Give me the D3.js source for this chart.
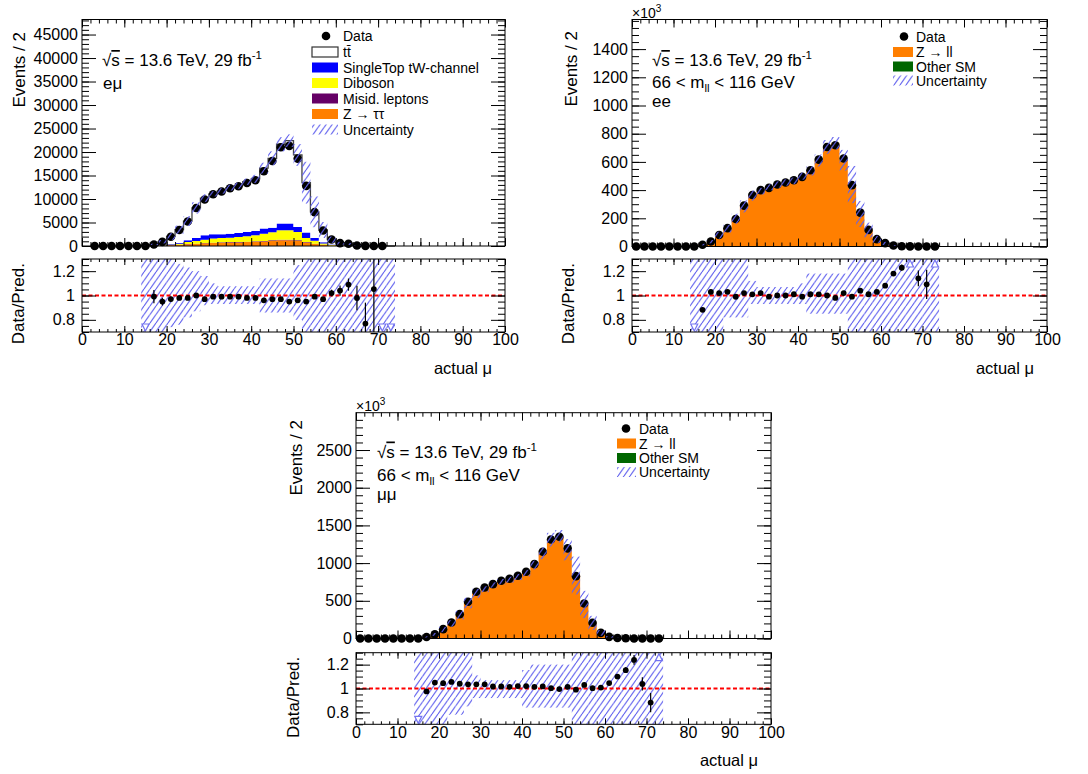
<!DOCTYPE html>
<html lang="en">
<head>
<meta charset="UTF-8" />
<title>actual mu - emu, ee, mumu</title>
<script src="https://cdn.jsdelivr.net/npm/d3@7"></script>
<style>
  body { margin: 0; background: #fff; }
  svg text { font-family: "Liberation Sans", Arial, Helvetica, sans-serif; fill: #000; }
</style>
</head>
<body>
<svg id="chart" width="1088" height="774"></svg>
<script>
// ---- bins ----
// data points: centres of 2-unit bins
var dataCenters = [1,3,5,7,9,11,13,15,17,19,21,23,25,27,29,31,33,35,37,39,41,43,45,47,49,51,53,55,57,59,61,63,65,67,69,71,73];
// simulation bins (14 to 74)
var mcCenters = [15,17,19,21,23,25,27,29,31,33,35,37,39,41,43,45,47,49,51,53,55,57,59,61,63,65,67,69,71,73];

// ---- e mu channel (events / 2) ----
var emuData = [null,0,0,0,0,0,0,0,330,870,1960,3400,5200,8100,9900,11000,11600,12300,12700,13400,14000,15900,18100,21000,21300,18600,12800,7200,3300,1370,620,475,96,20,8,0,null];
var emuTtbar = [32,263,726,1600,2830,4096,6390,7926,8621,9227,9794,10048,10683,11086,12863,14750,16879,17651,15315,10624,5563,2602,1033,466,346,78,20,5.6,2.4,1.2];
var emuSingleTop = [2,20,50,120,140,360,640,930,920,780,850,860,930,930,1070,1010,1420,1420,1070,1140,610,280,110,45,30,6,2,1,0.2,0.1];
var emuDiboson = [3,25,70,100,220,420,570,710,860,930,930,1070,1130,1270,1560,1690,2000,2000,1780,860,600,270,100,45,30,7,2,0.5,0.2,0.1];
var emuMisid = [0,3,7,20,30,45,50,65,70,80,85,85,95,100,110,120,135,135,120,85,50,25,10,4,3,1,0,0,0,0];
var emuZtautau = [3,22,63,180,250,385,450,575,640,700,765,765,835,900,960,1090,1215,1215,1090,765,450,225,90,36,27,6,2,0.5,0.2,0.1];
var emuUncMain = [0.5,0.45,0.4,0.35,0.25,0.2,0.15,0.08,0.05,0.05,0.05,0.05,0.05,0.06,0.07,0.08,0.07,0.06,0.12,0.33,0.45,0.5,0.5,0.5,0.5,0.5,0.5,0.5,0.5,0.5];
var emuUncUp = [0.6,0.6,0.6,0.3,0.26,0.23,0.2,0.16,0.1,0.076,0.076,0.076,0.076,0.076,0.14,0.14,0.14,0.14,0.25,0.6,0.6,0.6,0.6,0.6,0.6,0.6,0.6,0.6,0.6,0.6];
var emuUncDown = [0.6,0.6,0.6,0.26,0.24,0.18,0.13,0.08,0.07,0.07,0.07,0.07,0.07,0.07,0.14,0.14,0.14,0.14,0.2,0.6,0.6,0.6,0.6,0.6,0.6,0.6,0.6,0.6,0.6,0.6];

// ---- ee channel (x10^3 events / 2) ----
var eeData = [0,0,0,0,0,0,0,0,12,35,82,130,195,290,365,400,416,440,454,470,494,541,616,706,718,624,435,240,118,52,24,7,2.2,0.7,0.307,0.083,0.02];
var eeZll = [0.3,13.55,33.86,80.1,125.7,196.2,283.2,360,390.6,418.5,438.2,452.2,463.4,497,533.5,607.5,703.2,729.8,609.4,437.6,229.9,116.3,50.3,22.11,5.91,1.78,0.45,0.269,0.076,0.01];
var eeOther = [0,0.05,0.14,0.3,0.5,0.8,1.1,1.4,1.6,1.7,1.8,1.8,1.9,2,2.1,2.4,2.8,2.9,2.4,1.8,0.9,0.5,0.2,0.09,0.02,0.01,0,0,0,0];
var eeUncMain = [0.5,0.4,0.35,0.3,0.22,0.18,0.15,0.1,0.06,0.05,0.05,0.05,0.05,0.05,0.06,0.07,0.07,0.06,0.12,0.3,0.4,0.45,0.5,0.5,0.5,0.5,0.5,0.5,0.5,0.5];
var eeUncUp = [0.6,0.6,0.6,0.6,0.6,0.6,0.6,0.12,0.07,0.07,0.07,0.07,0.07,0.1,0.18,0.18,0.18,0.18,0.18,0.6,0.6,0.6,0.6,0.6,0.6,0.6,0.6,0.6,0.6,0.6];
var eeUncDown = [0.6,0.6,0.6,0.6,0.18,0.18,0.18,0.07,0.07,0.07,0.07,0.07,0.07,0.07,0.15,0.15,0.15,0.15,0.15,0.6,0.6,0.6,0.6,0.6,0.6,0.6,0.6,0.6,0.6,0.6];

// ---- mu mu channel (x10^3 events / 2) ----
var mmData = [0,0,0,0,0,0,0,0,20,57,124,212,323,487,620,677,721,765,792,832,885,987,1150,1314,1350,1195,827,465,208,75,22,6.5,2.4,0.9,0.35,0.12,0.03];
var mmZll = [0.5,20.42,54.1,118.2,200.2,309.4,468.6,596.6,651.5,706.2,749.2,778,812.4,864.1,969.5,1126.3,1304.8,1351.4,1173.8,832.1,449.7,206.6,74.1,20.97,5.89,2.07,0.726,0.337,0.136,0.02];
var mmOther = [0,0.08,0.2,0.5,0.8,1.2,1.9,2.4,2.6,2.8,3,3.1,3.3,3.5,3.9,4.5,5.2,5.4,4.7,3.3,1.8,0.8,0.3,0.08,0.02,0.01,0,0,0,0];
var mmUncMain = [0.5,0.4,0.35,0.3,0.22,0.18,0.15,0.1,0.06,0.05,0.05,0.05,0.05,0.05,0.06,0.07,0.07,0.06,0.12,0.3,0.4,0.45,0.5,0.5,0.5,0.5,0.5,0.5,0.5,0.5];
var mmUncUp = [0.6,0.6,0.6,0.6,0.6,0.6,0.6,0.11,0.07,0.07,0.07,0.07,0.07,0.155,0.2,0.2,0.2,0.2,0.2,0.6,0.6,0.6,0.6,0.6,0.6,0.6,0.6,0.6,0.6,0.6];
var mmUncDown = [0.6,0.6,0.6,0.6,0.22,0.22,0.15,0.08,0.08,0.08,0.08,0.08,0.08,0.16,0.16,0.16,0.16,0.16,0.16,0.6,0.6,0.6,0.6,0.6,0.6,0.6,0.6,0.6,0.6,0.6];

// ---- tick labels ----
var xMajor = [0,10,20,30,40,50,60,70,80,90,100];
var emuYTicks = [0,5000,10000,15000,20000,25000,30000,35000,40000,45000];
var eeYTicks = [0,200,400,600,800,1000,1200,1400];
var mmYTicks = [0,500,1000,1500,2000,2500];
var ratioTicks = [0.8,1,1.2];

var svg = d3.select("#chart");
var font = "'Liberation Sans', Arial, Helvetica, sans-serif";

// hatch used for the uncertainty band
var hw = 6, hh = 8.5;
svg.append("defs").append("pattern")
  .attr("id", "hatch")
  .attr("patternUnits", "userSpaceOnUse")
  .attr("width", hw).attr("height", hh)
  .append("path")
  .attr("d", "M" + (-hw) + "," + hh + "L0,0M0," + hh + "L" + hw + ",0M" + hw + "," + hh + "L" + (2 * hw) + ",0")
  .attr("stroke", "#6262ee").attr("stroke-width", 1.15).attr("fill", "none");

var panels = [
  {
    left: 82, right: 505, top: 19.5, mainBottom: 246, ratioTop: 259, ratioBottom: 332,
    yMax: 48200, yTicks: emuYTicks, yMinor: d3.range(0, 48001, 1000), perThousand: false,
    data: emuData, dataFrom: 3, dataTo: 71, outline: true,
    stack: [
      { name: "ztt", values: emuZtautau, color: "#ff7f00" },
      { name: "misid", values: emuMisid, color: "#660066" },
      { name: "diboson", values: emuDiboson, color: "#ffff00" },
      { name: "singletop", values: emuSingleTop, color: "#0000ff" },
      { name: "ttbar", values: emuTtbar, color: "#ffffff" }
    ],
    uncMain: emuUncMain, uncUp: emuUncUp, uncDown: emuUncDown,
    yTitleX: 25, yTitleEnd: 32, rTitleX: 24,
    lines: [{ kind: "lumi", x: 102, y: 66 }, { kind: "plain", text: "e\u03bc", x: 103, y: 89 }],
    legend: {
      dotX: 326, boxX: 312, boxW: 26, boxH: 10, textX: 343,
      rows: [
        { y: 36, type: "dot", label: "Data" },
        { y: 52, type: "box", color: "#ffffff", stroke: "#333", label: "tt\u0304" },
        { y: 67.5, type: "box", color: "#0000ff", label: "SingleTop tW-channel" },
        { y: 83, type: "box", color: "#ffff00", label: "Diboson" },
        { y: 98.5, type: "box", color: "#660066", label: "Misid. leptons" },
        { y: 114, type: "box", color: "#ff7f00", label: "Z \u2192 \u03c4\u03c4" },
        { y: 129.5, type: "hatch", label: "Uncertainty" }
      ]
    }
  },
  {
    left: 632, right: 1047, top: 19.5, mainBottom: 246.5, ratioTop: 259, ratioBottom: 332,
    yMax: 1610, yTicks: eeYTicks, yMinor: d3.range(0, 1601, 50), perThousand: true,
    data: eeData, dataFrom: 1, dataTo: 73, outline: false,
    stack: [
      { name: "other", values: eeOther, color: "#006600" },
      { name: "zll", values: eeZll, color: "#ff7f00" }
    ],
    uncMain: eeUncMain, uncUp: eeUncUp, uncDown: eeUncDown,
    yTitleX: 577, yTitleEnd: 31, rTitleX: 574,
    lines: [{ kind: "lumi", x: 652, y: 66 }, { kind: "mll", x: 652, y: 87.5 }, { kind: "plain", text: "ee", x: 652, y: 106.5 }],
    legend: {
      dotX: 904, boxX: 893, boxW: 20, boxH: 10, textX: 916,
      rows: [
        { y: 36.5, type: "dot", label: "Data" },
        { y: 52, type: "box", color: "#ff7f00", label: "Z \u2192 ll" },
        { y: 66.5, type: "box", color: "#006600", label: "Other SM" },
        { y: 80.5, type: "hatch", label: "Uncertainty" }
      ]
    }
  },
  {
    left: 356, right: 771, top: 412.7, mainBottom: 638.5, ratioTop: 652.7, ratioBottom: 724.3,
    yMax: 2995, yTicks: mmYTicks, yMinor: d3.range(0, 2901, 100), perThousand: true,
    data: mmData, dataFrom: 1, dataTo: 73, outline: false,
    stack: [
      { name: "other", values: mmOther, color: "#006600" },
      { name: "zll", values: mmZll, color: "#ff7f00" }
    ],
    uncMain: mmUncMain, uncUp: mmUncUp, uncDown: mmUncDown,
    yTitleX: 302, yTitleEnd: 420, rTitleX: 299,
    lines: [{ kind: "lumi", x: 377, y: 457.5 }, { kind: "mll", x: 377, y: 480.5 }, { kind: "plain", text: "\u03bc\u03bc", x: 377, y: 500 }],
    legend: {
      dotX: 626, boxX: 617, boxW: 19, boxH: 10, textX: 639,
      rows: [
        { y: 428.5, type: "dot", label: "Data" },
        { y: 443.5, type: "box", color: "#ff7f00", label: "Z \u2192 ll" },
        { y: 458, type: "box", color: "#006600", label: "Other SM" },
        { y: 472, type: "hatch", label: "Uncertainty" }
      ]
    }
  }
];

function axisPart(g, axisFn, scale, values, size, fmt, pad, tx, ty) {
  var a = axisFn(scale).tickValues(values).tickSizeInner(-size).tickSizeOuter(0).tickPadding(pad);
  a.tickFormat(fmt || function() { return ""; });
  var s = g.append("g").attr("transform", "translate(" + tx + "," + ty + ")").call(a);
  s.select(".domain").remove();
  s.attr("font-family", font).attr("font-size", 16);
  s.selectAll("line").attr("stroke", "#000");
  s.selectAll("text").attr("fill", "#000");
  return s;
}

function drawPanel(p) {
  var g = svg.append("g");
  var x = d3.scaleLinear().domain([0, 100]).range([p.left, p.right]);
  var y = d3.scaleLinear().domain([0, p.yMax]).range([p.mainBottom, p.top]);
  var yr = d3.scaleLinear().domain([0.7, 1.3]).range([p.ratioBottom, p.ratioTop]);
  var xMinor = d3.range(0, 101, 2);

  // stacked simulation
  var rows = mcCenters.map(function(c, i) {
    var r = { lo: c - 1, hi: c + 1 };
    p.stack.forEach(function(s) { r[s.name] = s.values[i]; });
    return r;
  });
  var layers = d3.stack().keys(p.stack.map(function(s) { return s.name; }))(rows);
  var area = d3.area().curve(d3.curveStepAfter)
    .x(function(d) { return x(d.x); })
    .y0(function(d) { return y(d.y0); })
    .y1(function(d) { return y(d.y1); });
  layers.forEach(function(layer, k) {
    var pts = layer.map(function(d) { return { x: d.data.lo, y0: d[0], y1: d[1] }; });
    var last = layer[layer.length - 1];
    pts.push({ x: last.data.hi, y0: last[0], y1: last[1] });
    g.append("path").attr("d", area(pts)).attr("fill", p.stack[k].color);
  });
  var total = rows.map(function(r, i) { return layers[layers.length - 1][i][1]; });

  if (p.outline) {
    var lp = [{ x: 14, v: 0 }];
    rows.forEach(function(r, i) { lp.push({ x: r.lo, v: total[i] }); });
    lp.push({ x: 74, v: total[total.length - 1] });
    lp.push({ x: 74, v: 0 });
    g.append("path")
      .attr("d", d3.line().curve(d3.curveStepAfter).x(function(d) { return x(d.x); }).y(function(d) { return y(d.v); })(lp))
      .attr("fill", "none").attr("stroke", "#444").attr("stroke-width", 1.3);
  }

  // data points
  var scaleN = p.perThousand ? 1000 : 1;
  var pts = dataCenters.map(function(c, i) {
    var v = p.data[i];
    return { c: c, v: v, err: v ? Math.sqrt(v * scaleN) / scaleN : 0 };
  }).filter(function(d) { return d.v !== null && d.c >= p.dataFrom && d.c <= p.dataTo; });
  g.append("g").selectAll("line").data(pts.filter(function(d) { return d.err > 0; })).join("line")
    .attr("x1", function(d) { return x(d.c); }).attr("x2", function(d) { return x(d.c); })
    .attr("y1", function(d) { return y(Math.max(0, d.v - d.err)); })
    .attr("y2", function(d) { return y(d.v + d.err); })
    .attr("stroke", "#000").attr("stroke-width", 1.2);
  g.append("g").selectAll("circle").data(pts).join("circle")
    .attr("cx", function(d) { return x(d.c); })
    .attr("cy", function(d) { return y(d.v); })
    .attr("r", 4.3).attr("fill", "#000");

  // uncertainty band on the prediction
  g.append("g").selectAll("rect").data(rows).join("rect")
    .attr("x", function(r) { return x(r.lo); })
    .attr("width", function(r) { return x(r.hi) - x(r.lo); })
    .attr("y", function(r, i) { return y(Math.min(p.yMax, total[i] * (1 + p.uncMain[i]))); })
    .attr("height", function(r, i) { return y(total[i] * (1 - p.uncMain[i])) - y(Math.min(p.yMax, total[i] * (1 + p.uncMain[i]))); })
    .attr("fill", "url(#hatch)");

  // main axes
  axisPart(g, d3.axisLeft, y, p.yMinor, 7, null, 4, p.left, 0);
  axisPart(g, d3.axisLeft, y, p.yTicks, 14, d3.format("d"), 4, p.left, 0);
  axisPart(g, d3.axisRight, y, p.yMinor, 7, null, 0, p.right, 0);
  axisPart(g, d3.axisRight, y, p.yTicks, 14, null, 0, p.right, 0);
  axisPart(g, d3.axisBottom, x, xMinor, 4, null, 0, 0, p.mainBottom);
  axisPart(g, d3.axisBottom, x, xMajor, 8, null, 0, 0, p.mainBottom);
  axisPart(g, d3.axisTop, x, xMinor, 4, null, 0, 0, p.top);
  axisPart(g, d3.axisTop, x, xMajor, 8, null, 0, 0, p.top);
  g.append("rect").attr("x", p.left).attr("y", p.top)
    .attr("width", p.right - p.left).attr("height", p.mainBottom - p.top)
    .attr("fill", "none").attr("stroke", "#000").attr("stroke-width", 1);

  // ratio panel
  var rg = g.append("g");
  rg.append("g").selectAll("rect").data(rows).join("rect")
    .attr("x", function(r) { return x(r.lo); })
    .attr("width", function(r) { return x(r.hi) - x(r.lo); })
    .attr("y", function(r, i) { return yr(Math.min(1.3, 1 + p.uncUp[i])); })
    .attr("height", function(r, i) { return yr(Math.max(0.7, 1 - p.uncDown[i])) - yr(Math.min(1.3, 1 + p.uncUp[i])); })
    .attr("fill", "url(#hatch)");
  rg.append("line").attr("x1", p.left).attr("x2", p.right)
    .attr("y1", yr(1)).attr("y2", yr(1))
    .attr("stroke", "#ff0000").attr("stroke-width", 2).attr("stroke-dasharray", "4,2.5");

  var ratios = rows.map(function(r, i) {
    var c = mcCenters[i];
    var di = dataCenters.indexOf(c);
    var d = p.data[di] === null ? 0 : p.data[di];
    var err = d ? Math.sqrt(d * scaleN) / scaleN : 0;
    return { c: c, r: d / total[i], e: err / total[i] };
  });
  var inside = ratios.filter(function(d) { return d.r >= 0.7 && d.r <= 1.3; });
  rg.append("g").selectAll("line").data(inside).join("line")
    .attr("x1", function(d) { return x(d.c); }).attr("x2", function(d) { return x(d.c); })
    .attr("y1", function(d) { return yr(Math.max(0.7, d.r - d.e)); })
    .attr("y2", function(d) { return yr(Math.min(1.3, d.r + d.e)); })
    .attr("stroke", "#000").attr("stroke-width", 1.2);
  rg.append("g").selectAll("circle").data(inside).join("circle")
    .attr("cx", function(d) { return x(d.c); }).attr("cy", function(d) { return yr(d.r); })
    .attr("r", 2.9).attr("fill", "#000");
  var out = ratios.filter(function(d) { return d.r < 0.7 || d.r > 1.3; });
  rg.append("g").selectAll("path").data(out).join("path")
    .attr("d", function(d) {
      var cx = x(d.c);
      if (d.r < 0.7) {
        var b = p.ratioBottom;
        return "M" + (cx - 3.5) + "," + (b - 8) + "L" + (cx + 3.5) + "," + (b - 8) + "L" + cx + "," + (b - 1) + "Z";
      }
      var t = p.ratioTop;
      return "M" + (cx - 3.5) + "," + (t + 8) + "L" + (cx + 3.5) + "," + (t + 8) + "L" + cx + "," + (t + 1) + "Z";
    })
    .attr("fill", "#fff").attr("stroke", "#7474f0").attr("stroke-width", 1.2);

  axisPart(rg, d3.axisLeft, yr, d3.range(0.7, 1.3001, 0.05), 7, null, 0, p.left, 0);
  axisPart(rg, d3.axisLeft, yr, ratioTicks, 14, d3.format("~g"), 7, p.left, 0);
  axisPart(rg, d3.axisRight, yr, d3.range(0.7, 1.3001, 0.05), 7, null, 0, p.right, 0);
  axisPart(rg, d3.axisRight, yr, ratioTicks, 14, null, 0, p.right, 0);
  axisPart(rg, d3.axisBottom, x, xMinor, 3, null, 0, 0, p.ratioBottom);
  axisPart(rg, d3.axisBottom, x, xMajor, 6, d3.format("d"), 2, 0, p.ratioBottom);
  axisPart(rg, d3.axisTop, x, xMinor, 3, null, 0, 0, p.ratioTop);
  axisPart(rg, d3.axisTop, x, xMajor, 6, null, 0, 0, p.ratioTop);
  rg.append("rect").attr("x", p.left).attr("y", p.ratioTop)
    .attr("width", p.right - p.left).attr("height", p.ratioBottom - p.ratioTop)
    .attr("fill", "none").attr("stroke", "#000").attr("stroke-width", 1);

  // titles
  g.append("text").attr("transform", "translate(" + p.yTitleX + "," + p.yTitleEnd + ") rotate(-90)")
    .attr("text-anchor", "end").attr("font-size", 17).text("Events / 2");
  g.append("text").attr("transform", "translate(" + p.rTitleX + "," + (p.ratioTop + 4) + ") rotate(-90)")
    .attr("text-anchor", "end").attr("font-size", 17).text("Data/Pred.");
  g.append("text").attr("x", p.right - 13).attr("y", p.ratioBottom + 42)
    .attr("text-anchor", "end").attr("font-size", 16.5).text("actual \u03bc");
  if (p.perThousand) {
    var m = g.append("text").attr("x", p.left).attr("y", p.top - 2).attr("font-size", 14).attr("fill", "#000");
    m.append("tspan").text("\u00d710");
    m.append("tspan").attr("font-size", 10).attr("dy", -6).text("3");
  }

  // labels
  p.lines.forEach(function(l) {
    var t = g.append("text").attr("x", l.x).attr("y", l.y).attr("font-size", 17);
    if (l.kind === "lumi") {
      t.append("tspan").text("\u221a");
      t.append("tspan").attr("text-decoration", "overline").text("s");
      t.append("tspan").text(" = 13.6 TeV, 29 fb");
      t.append("tspan").attr("font-size", 11.5).attr("dy", -7).text("-1");
    } else if (l.kind === "mll") {
      t.append("tspan").text("66 < m");
      t.append("tspan").attr("font-size", 11.5).attr("dy", 4).text("ll");
      t.append("tspan").attr("dy", -4).text(" < 116 GeV");
    } else {
      t.text(l.text);
    }
  });

  // legend
  var L = p.legend;
  L.rows.forEach(function(r) {
    if (r.type === "dot") {
      g.append("circle").attr("cx", L.dotX).attr("cy", r.y).attr("r", 4.3).attr("fill", "#000");
    } else {
      g.append("rect").attr("x", L.boxX).attr("y", r.y - L.boxH / 2)
        .attr("width", L.boxW).attr("height", L.boxH)
        .attr("fill", r.type === "hatch" ? "url(#hatch)" : r.color)
        .attr("stroke", r.stroke || "none").attr("stroke-width", 1.2);
    }
    g.append("text").attr("x", L.textX).attr("y", r.y).attr("dy", "0.36em")
      .attr("font-size", 14).text(r.label);
  });
}

panels.forEach(drawPanel);
</script>
</body>
</html>
